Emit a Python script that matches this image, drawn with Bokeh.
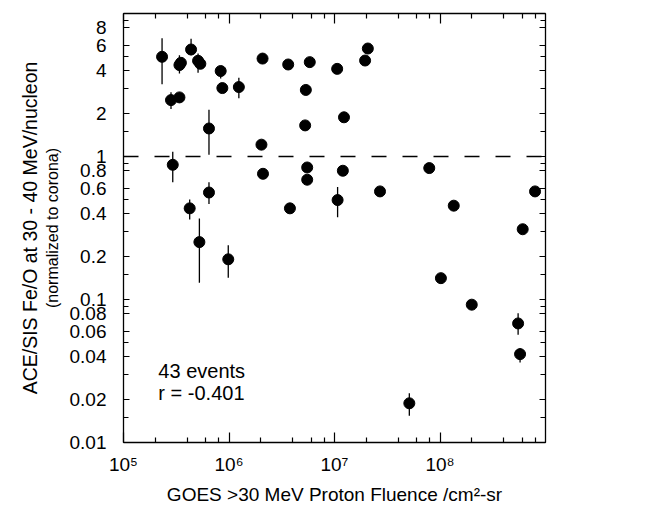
import math
from bokeh.plotting import figure
from bokeh.models import (Range1d, LogAxis, FixedTicker, Span, Label,
                          ColumnDataSource, AllLabels)
from bokeh.embed import file_html
from bokeh.resources import INLINE

nan = float("nan")

# GOES >30 MeV proton fluence (/cm2-sr)
fluence = [2.32e5, 2.82e5, 2.93e5, 3.39e5, 3.39e5, 3.50e5, 4.24e5, 4.37e5,
           5.09e5, 5.24e5, 6.46e5, 6.46e5, 8.34e5, 8.65e5, 9.84e5, 1.24e6,
           2.03e6, 2.08e6, 2.10e6, 3.64e6, 3.78e6, 5.27e6, 5.35e6, 5.83e6,
           5.51e6, 5.51e6, 1.06e7, 1.07e7, 1.20e7, 1.23e7, 1.95e7, 2.07e7,
           2.70e7, 5.12e7, 7.91e7, 1.02e8, 1.35e8, 2.00e8, 5.50e8, 5.74e8,
           6.08e8, 7.96e8, 5.35e5]
# ACE/SIS Fe/O at 30-40 MeV/nucleon normalized to corona
fe_o = [4.98, 2.48, 0.875, 2.59, 4.36, 4.52, 0.434, 5.60,
        4.67, 0.252, 1.57, 0.56, 3.96, 3.01, 0.191, 3.06,
        1.21, 4.84, 0.757, 4.40, 0.434, 1.65, 2.92, 4.57,
        0.838, 0.688, 4.10, 0.496, 0.795, 1.88, 4.69, 5.69,
        0.57, 0.0188, 0.83, 0.141, 0.453, 0.092, 0.068, 0.0415,
        0.31, 0.57, 4.45]
err_low = [3.2, 2.15, 0.66, nan, 3.80, 4.2, 0.362, 5.11,
           3.85, 0.131, 1.03, 0.465, 3.51, nan, 0.142, 2.55,
           nan, nan, nan, nan, 0.40, nan, nan, nan,
           nan, nan, nan, 0.376, nan, nan, nan, nan,
           nan, 0.0154, nan, nan, nan, nan, 0.0566, 0.0363,
           nan, nan, nan]
err_high = [6.7, 2.81, 1.08, nan, 5.11, 4.9, 0.50, 6.67,
            5.25, 0.368, 2.12, 0.66, 4.3, nan, 0.24, 3.55,
            nan, nan, nan, nan, 0.47, nan, nan, nan,
            nan, nan, nan, 0.611, nan, nan, nan, nan,
            nan, 0.0221, nan, nan, nan, nan, 0.080, 0.0457,
            nan, nan, nan]

x_ticks = [1e5, 1e6, 1e7, 1e8]
x_tick_labels = ["10\u2075", "10\u2076", "10\u2077", "10\u2078"]
x_minor = [k * 10.0 ** e for e in range(5, 9) for k in (2, 4, 6, 8)]

y_ticks = [0.01, 0.02, 0.04, 0.06, 0.08, 0.1, 0.2, 0.4, 0.6, 0.8, 1.0, 2.0, 4.0, 6.0, 8.0]
y_tick_labels = ["0.01", "0.02", "0.04", "0.06", "0.08", "0.1", "0.2", "0.4", "0.6",
                 "0.8", "1", "2", "4", "6", "8"]
y_minor = [0.015, 0.03, 0.05, 0.09, 0.15, 0.3, 0.5, 0.9, 1.5, 3.0, 5.0, 9.0]

FONT = "Liberation Sans"

src = ColumnDataSource(dict(x=fluence, y=fe_o, lo=err_low, hi=err_high))

p = figure(width=663, height=508, x_axis_type="log", y_axis_type="log",
           x_range=Range1d(1e5, 1e9), y_range=Range1d(0.01, 10),
           output_backend="svg", toolbar_location=None,
           min_border_left=123, min_border_right=118, min_border_top=13,
           min_border_bottom=66)
p.grid.visible = False
p.outline_line_color = "black"
p.background_fill_color = "white"
p.border_fill_color = "white"


def style_axis(ax, ticks, minor, labels=None, major_in=6, minor_in=5):
    ax.ticker = FixedTicker(ticks=ticks, minor_ticks=minor)
    ax.axis_line_color = "black"
    ax.axis_line_width = 1.3
    ax.major_tick_line_color = "black"
    ax.minor_tick_line_color = "black"
    ax.major_tick_line_width = 1.2
    ax.minor_tick_line_width = 1.2
    ax.major_tick_in = major_in
    ax.major_tick_out = 0
    ax.minor_tick_in = minor_in
    ax.minor_tick_out = 0
    ax.major_label_text_font = FONT
    ax.major_label_text_font_size = "19px"
    ax.major_label_text_color = "black"
    ax.major_label_policy = AllLabels()
    ax.axis_label_text_font = FONT
    ax.axis_label_text_font_style = "normal"
    ax.axis_label_text_color = "black"
    if labels is not None:
        ax.major_label_overrides = dict(zip(ticks, labels))
    else:
        ax.major_label_text_font_size = "1px"
        ax.major_label_text_color = None
        ax.major_label_standoff = 0


# bottom x axis
xa = p.xaxis[0]
style_axis(xa, x_ticks, x_minor, x_tick_labels, major_in=10)
xa.major_label_standoff = 11
xa.axis_label = "GOES >30 MeV Proton Fluence /cm\u00b2-sr"
xa.axis_label_text_font_size = "19px"
xa.axis_label_standoff = 6

# left y axis (inner, with subtitle)
ya = p.yaxis[0]
style_axis(ya, y_ticks, y_minor, y_tick_labels, major_in=6)
ya.major_label_standoff = 17
ya.axis_label = "(normalized to corona)"
ya.axis_label_text_font_size = "16px"
ya.axis_label_standoff = 6

# outer left axis carrying the main y label
ya2 = LogAxis(ticker=FixedTicker(ticks=[1.0], minor_ticks=[]),
              axis_label="ACE/SIS Fe/O at 30 - 40 MeV/nucleon")
ya2.axis_line_color = None
ya2.major_tick_line_color = None
ya2.minor_tick_line_color = None
ya2.major_tick_in = 0
ya2.major_tick_out = 0
ya2.major_label_text_font_size = "1px"
ya2.major_label_text_color = None
ya2.major_label_standoff = 0
ya2.axis_label_text_font = FONT
ya2.axis_label_text_font_size = "19.5px"
ya2.axis_label_text_font_style = "normal"
ya2.axis_label_text_color = "black"
ya2.axis_label_standoff = 0
p.add_layout(ya2, "left")

# top and right axes: ticks only
xt = LogAxis()
style_axis(xt, x_ticks, x_minor, None, major_in=10)
p.add_layout(xt, "above")
yr = LogAxis()
style_axis(yr, y_ticks, y_minor, None, major_in=6)
p.add_layout(yr, "right")

# coronal reference line
p.add_layout(Span(location=1.0, dimension="width", line_color="black",
                  line_width=1.3, line_dash="15 16"))
p.add_layout(Label(x=1e9, y=1.0, x_offset=53, text="Coronal", text_font=FONT,
                   text_font_size="17px", text_baseline="middle", text_color="black"))

# error bars and points
p.segment(x0="x", y0="lo", x1="x", y1="hi", source=src, line_color="black", line_width=1.3)
p.scatter("x", "y", source=src, size=11, marker="circle", fill_color="black",
          line_color="black")

p.add_layout(Label(x=2.14e5, y=0.0318, text="43 events", text_font=FONT,
                   text_font_size="20px", text_baseline="middle", text_color="black"))
p.add_layout(Label(x=2.14e5, y=0.0223, text="r = -0.401", text_font=FONT,
                   text_font_size="20px", text_baseline="middle", text_color="black"))

open("out.html", "w").write(file_html(p, INLINE))
